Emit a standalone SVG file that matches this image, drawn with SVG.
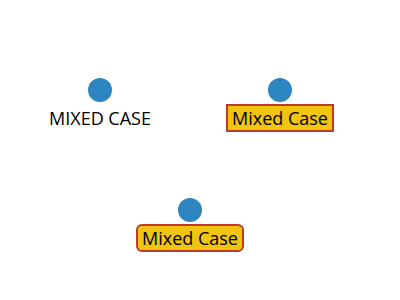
<svg xmlns="http://www.w3.org/2000/svg" width="400" height="300" viewBox="0 0 400 300">
<style>
.dot{fill:#2e86c1}
.lbl{font-family:"Open Sans","Noto Sans",sans-serif;font-size:18px;fill:#000;text-anchor:middle}
.box{fill:#f1c40f;stroke:#c0392b;stroke-width:2}
</style>
<rect width="400" height="300" fill="#fff"/>
<g id="connectors"></g>
<g id="node1">
<circle class="dot" cx="100" cy="90" r="12"/>
<text class="lbl" x="100" y="125">MIXED CASE</text>
</g>
<g id="node2">
<circle class="dot" cx="280" cy="90" r="12"/>
<rect class="box" x="227" y="105" width="106" height="26"/>
<text class="lbl" x="280" y="125">Mixed Case</text>
</g>
<g id="node3">
<circle class="dot" cx="190" cy="210" r="12"/>
<rect class="box" x="137" y="225" width="106" height="26" rx="5"/>
<text class="lbl" x="190" y="245">Mixed Case</text>
</g>
</svg>
